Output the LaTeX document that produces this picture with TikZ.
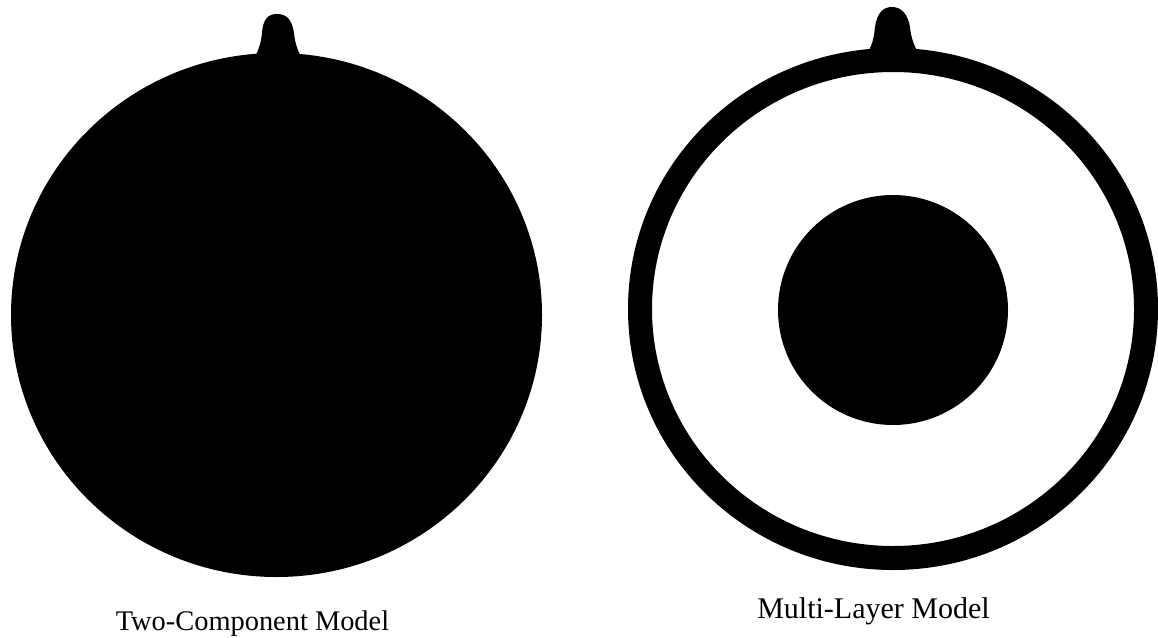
\documentclass[tikz,border=0pt]{standalone}
\usepackage{fontspec}
\setmainfont{Liberation Serif}
\begin{document}
\begin{tikzpicture}[x=1pt,y=-1pt,
  solid/.style={fill=black,draw=none},
  caption/.style={inner sep=0pt,anchor=base}]
\useasboundingbox[fill=white] (0,0) rectangle (1158,637);
% left: two-component model
\fill[solid] (276.5,315) ellipse [x radius=265.5,y radius=262];
\fill[solid] (252,62) .. controls (258,52) and (261,44) .. (262,33)
  .. controls (263,19) and (268,14) .. (277,14)
  .. controls (287,14) and (292,20) .. (294,33)
  .. controls (295,44) and (298,52) .. (304,62) -- cycle;
% right: multi-layer model
\fill[solid,even odd rule] (893,309) ellipse [x radius=265,y radius=261]
  (893,309) ellipse [x radius=241,y radius=237];
\fill[solid] (866,56) .. controls (872,46) and (874,38) .. (875,27)
  .. controls (877,13) and (883,7) .. (892,7)
  .. controls (902,7) and (908,15) .. (910,27)
  .. controls (911,38) and (914,46) .. (920,56) -- cycle;
\fill[solid] (893,310) circle [radius=115];
% captions
\node[caption,font=\fontsize{28.4}{30}\selectfont] (lab1) at (252.5,630) {Two-Component Model};
\node[caption,font=\fontsize{30}{32}\selectfont] (lab2) at (873.5,618) {Multi-Layer Model};
\end{tikzpicture}
\end{document}
